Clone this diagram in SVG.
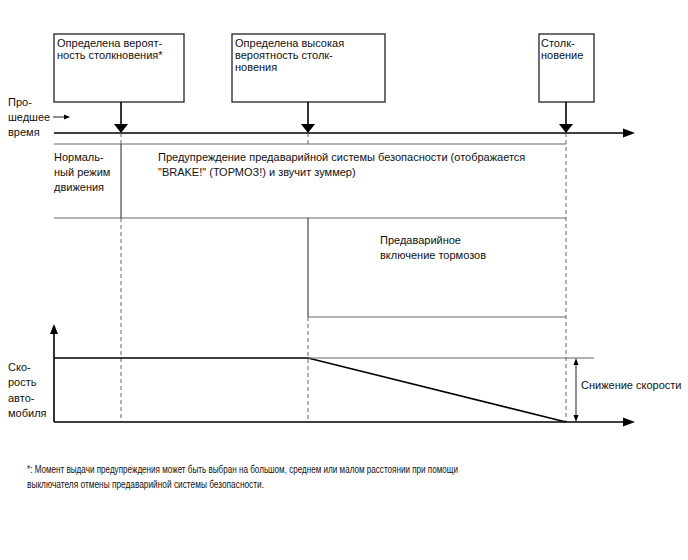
<svg xmlns="http://www.w3.org/2000/svg" width="688" height="560" viewBox="0 0 688 560">
<style>
text{font-family:"Liberation Sans",Arial,sans-serif;font-size:11px;fill:#111}
.box{fill:#fff;stroke:#222;stroke-width:1.3}
.ax{stroke:#000;stroke-width:1.6;fill:none}
.thin{stroke:#666;stroke-width:1;fill:none}
.blk{stroke:#222;stroke-width:1;fill:none}
.dash{stroke:#555;stroke-width:0.9;stroke-dasharray:4,3;fill:none}
.head{fill:#000}
</style>
<rect width="688" height="560" fill="#fff"/>
<g id="node-box1">
<rect class="box" x="54" y="34" width="130" height="68"/>
<text x="57" y="47">Определена вероят-</text>
<text x="57" y="59">ность столкновения*</text>
</g>
<g id="node-box2">
<rect class="box" x="232" y="34" width="153" height="68"/>
<text x="235" y="47">Определена высокая</text>
<text x="235" y="59">вероятность столк-</text>
<text x="235" y="71">новения</text>
</g>
<g id="node-box3">
<rect class="box" x="539" y="34" width="55" height="68"/>
<text x="541" y="47">Столк-</text>
<text x="541" y="59">новение</text>
</g>
<g id="labels">
<text x="8" y="106">Про-</text>
<text x="8" y="121">шедшее</text>
<text x="8" y="136">время</text>
<text x="54" y="161">Нормаль-</text>
<text x="54" y="176">ный режим</text>
<text x="54" y="191">движения</text>
<text x="158" y="161">Предупреждение предаварийной системы безопасности (отображается</text>
<text x="158" y="176">"BRAKE!" (ТОРМОЗ!) и звучит зуммер)</text>
<text x="380" y="244">Предаварийное</text>
<text x="380" y="259">включение тормозов</text>
<text x="8" y="371">Ско-</text>
<text x="8" y="386">рость</text>
<text x="8" y="402">авто-</text>
<text x="8" y="417">мобиля</text>
<text x="581" y="389">Снижение скорости</text>
<text x="27" y="473" font-size="11.5" textLength="431" lengthAdjust="spacingAndGlyphs">*: Момент выдачи предупреждения может быть выбран на большом, среднем или малом расстоянии при помощи</text>
<text x="27" y="488" font-size="11.5" textLength="237" lengthAdjust="spacingAndGlyphs">выключателя отмены предаварийной системы безопасности.</text>
</g>
<g id="connectors">
<line class="blk" x1="53" y1="117" x2="68" y2="117"/>
<polygon class="head" points="64,114.5 70,117 64,119.5"/>
<line class="ax" x1="121" y1="102" x2="121" y2="125" stroke-width="2"/>
<polygon class="head" points="114,124 128,124 121,133"/>
<line class="ax" x1="308" y1="102" x2="308" y2="125" stroke-width="2"/>
<polygon class="head" points="301,124 315,124 308,133"/>
<line class="ax" x1="566" y1="102" x2="566" y2="125" stroke-width="2"/>
<polygon class="head" points="559,124 573,124 566,133"/>
<line class="ax" x1="54" y1="133" x2="625" y2="133"/>
<polygon class="head" points="623,128.5 635,133 623,137.5"/>
<line class="thin" x1="54" y1="144" x2="566" y2="144"/>
<line class="thin" x1="54" y1="218" x2="566" y2="218"/>
<line class="blk" x1="121" y1="144" x2="121" y2="218"/>
<line class="blk" x1="308" y1="218" x2="308" y2="317"/>
<line class="thin" x1="308" y1="317" x2="566" y2="317"/>
<line class="dash" x1="121" y1="133" x2="121" y2="144"/>
<line class="dash" x1="121" y1="218" x2="121" y2="422"/>
<line class="dash" x1="308" y1="133" x2="308" y2="144"/>
<line class="dash" x1="308" y1="317" x2="308" y2="422"/>
<line class="dash" x1="566" y1="133" x2="566" y2="422"/>
<line class="ax" x1="54" y1="422" x2="54" y2="332"/>
<polygon class="head" points="50,334 54,324 58,334"/>
<line class="ax" x1="54" y1="422" x2="625" y2="422"/>
<polygon class="head" points="623,417.5 635,422 623,426.5"/>
<polyline class="ax" points="54,358 308,358 566,422"/>
<line class="thin" x1="308" y1="358" x2="594" y2="358"/>
<line class="blk" x1="576" y1="362" x2="576" y2="418"/>
<polygon class="head" points="573.5,365 576,358 578.5,365"/>
<polygon class="head" points="573.5,415 576,422 578.5,415"/>
</g>
</svg>
